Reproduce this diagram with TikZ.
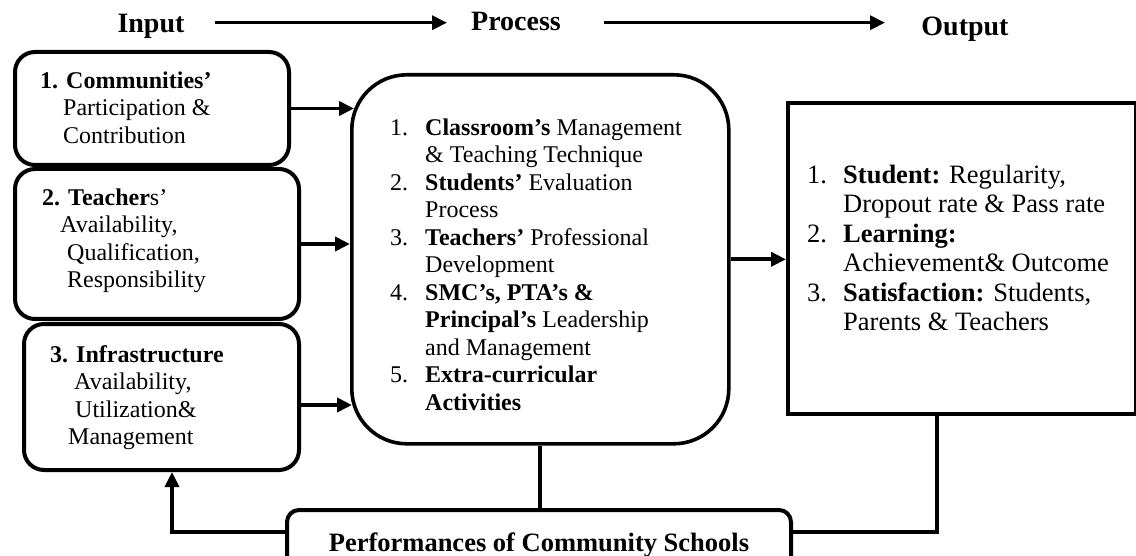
\documentclass[tikz,border=0pt]{standalone}
\usepackage{fontspec}
\setmainfont{Liberation Serif}
\usetikzlibrary{arrows.meta}
\newcommand\pnum[1]{\makebox[35pt][l]{#1}}
\newcommand\pind{\hspace*{35pt}}
\newcommand\onum[1]{\makebox[36pt][l]{#1}}
\newcommand\oind{\hspace*{36pt}}
\begin{document}
\begin{tikzpicture}[x=1pt,y=-1pt,
  rbox/.style={draw, line width=4pt, rounded corners=20pt, anchor=north west, inner sep=0pt},
  txt/.style={anchor=north west, inner sep=0pt, align=left, font=\fontsize{24}{27.5}\selectfont},
  otxt/.style={anchor=north west, inner sep=0pt, align=left, font=\fontsize{26.5}{29.5}\selectfont},
  ttl/.style={anchor=base, inner sep=0pt, font=\fontsize{28}{30}\selectfont\bfseries},
  arr/.style={line width=3.8pt, -{Triangle[length=15pt,width=14pt]}},
  tarr/.style={line width=3.2pt, -{Triangle[length=15pt,width=14pt]}},
  conn/.style={line width=3.8pt}]
\fill[white] (0,0) rectangle (1136,556);
\useasboundingbox (0,0) rectangle (1136,556);

% titles
\node[ttl] (tin) at (151,33) {Input};
\node[ttl] (tproc) at (516,31) {Process};
\node[ttl] (tout) at (965,36) {Output};
\coordinate (t1s) at (215,22.7);
\coordinate (t1e) at (447,22.7);
\coordinate (t2s) at (604,22.7);
\coordinate (t2e) at (885,22.7);
\draw[tarr] (t1s) -- (t1e);
\draw[tarr] (t2s) -- (t2e);

% input boxes
\node[rbox, minimum width=274pt, minimum height=113pt] (b1) at (13,50) {};
\node[rbox, minimum width=284pt, minimum height=150pt] (b2) at (13,167) {};
\node[rbox, minimum width=275pt, minimum height=146pt] (b3) at (22,322) {};

\node[txt] (b1t) at (40,68.75) {\strut\textbf{1. Communities’}\\
\strut\hspace*{23pt}Participation \&\\
\strut\hspace*{23pt}Contribution};
\node[txt] (b2t) at (42,185.75) {\strut\textbf{2. Teacher}s’\\
\strut\hspace*{18pt}Availability,\\
\strut\hspace*{25pt}Qualification,\\
\strut\hspace*{25pt}Responsibility};
\node[txt] (b3t) at (50,342.75) {\strut\textbf{3. Infrastructure}\\
\strut\hspace*{24pt}Availability,\\
\strut\hspace*{25pt}Utilization\&\\
\strut\hspace*{18pt}Management};

% process box
\node[draw, line width=3.6pt, rounded corners=55pt, anchor=north west, inner sep=0pt,
      minimum width=377pt, minimum height=369pt] (proc) at (350,73) {};
\node[txt] (proct) at (390,115.75) {\strut\pnum{1.}\textbf{Classroom’s} Management\\
\strut\pind\& Teaching Technique\\
\strut\pnum{2.}\textbf{Students’} Evaluation\\
\strut\pind Process\\
\strut\pnum{3.}\textbf{Teachers’} Professional\\
\strut\pind Development\\
\strut\pnum{4.}\textbf{SMC’s, PTA’s \&}\\
\strut\pind\textbf{Principal’s} Leadership\\
\strut\pind and Management\\
\strut\pnum{5.}\textbf{Extra-curricular}\\
\strut\pind\textbf{Activities}};

% output box
\node[draw, line width=4pt, anchor=north west, inner sep=0pt,
      minimum width=348pt, minimum height=311pt] (out) at (786,101) {};
\node[otxt] (outt) at (807,162.35) {\strut\onum{1.}\textbf{Student:} Regularity,\\
\strut\oind Dropout rate \& Pass rate\\
\strut\onum{2.}\textbf{Learning:}\\
\strut\oind Achievement\& Outcome\\
\strut\onum{3.}\textbf{Satisfaction:} Students,\\
\strut\oind Parents \& Teachers};

% performance box
\node[draw, line width=4pt, rounded corners=12pt, anchor=north, inner sep=0pt,
      minimum width=504pt, text height=41pt, text depth=26pt,
      font=\fontsize{26.5}{30}\selectfont\bfseries] (perf) at (539,508)
      {Performances of Community Schools};

% connectors
\draw[arr] (b1.east) -- ([xshift=4pt]b1.east -| proc.west);
\draw[arr] (b2.east) -- (b2.east -| proc.west);
\draw[arr] ([yshift=-8pt]b3.east) -- ([xshift=2pt,yshift=-8pt]b3.east -| proc.west);
\draw[arr] (proc.east) -- (proc.east -| out.west);
\draw[conn] (proc.south) -- (proc.south |- perf.north);
\coordinate (rc) at (937,532);
\coordinate (lc) at (172,532);
\draw[conn] (out.south -| rc) |- (perf.east |- rc);
\draw[arr] (perf.west |- lc) -| (b3.south -| lc);
\end{tikzpicture}
\end{document}
